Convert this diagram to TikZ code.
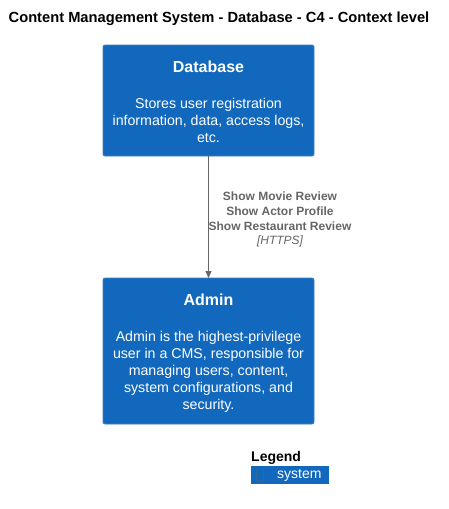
\documentclass[tikz,border=0pt]{standalone}
\usepackage{fontspec}
\setmainfont{Liberation Sans}
\usetikzlibrary{arrows.meta}
\definecolor{sysblue}{HTML}{1168BD}
\definecolor{sysedge}{HTML}{3C7FC0}
\definecolor{relgray}{HTML}{666666}
\begin{document}
\begin{tikzpicture}[x=1pt,y=-1pt,
  sysbox/.style={draw=sysedge,fill=sysblue,rounded corners=2pt,line width=0.8pt},
  boxtitle/.style={text=white,font=\fontsize{16}{19}\selectfont\bfseries,anchor=center,inner sep=0pt},
  boxdesc/.style={text=white,font=\fontsize{14.2}{17}\selectfont,align=center,anchor=north,inner sep=0pt},
  rel/.style={draw=relgray,line width=1pt,-{Triangle[length=7pt,width=6pt]}},
  rellabel/.style={text=relgray,font=\fontsize{12}{15}\selectfont\bfseries,align=center,inner sep=0pt}]
\path[fill=white] (0,0) rectangle (448,509);
\node[font=\fontsize{14.7}{17}\selectfont\bfseries,inner sep=0pt] (title) at (219,19) {Content Management System - Database - C4 - Context level};
% Database
\draw[sysbox] (103,45) rectangle (314,156);
\coordinate (dbtop) at (208.5,45);
\coordinate (dbbot) at (208.5,156);
\node[boxtitle] (dbt) at (208.5,67) {Database};
\node[boxdesc] (dbd) at (208.5,98) {Stores user registration\\information, data, access logs,\\etc.};
% Admin
\draw[sysbox] (103,278) rectangle (314,424);
\coordinate (adtop) at (208.5,278);
\node[boxtitle] (adt) at (208.5,300) {Admin};
\node[boxdesc] (add) at (208.5,331.5) {Admin is the highest-privilege\\user in a CMS, responsible for\\managing users, content,\\system configurations, and\\security.};
% relation
\draw[rel] (dbbot) -- (adtop);
\node[rellabel] (rl) at (280,211) {Show Movie Review\\Show Actor Profile\\Show Restaurant Review};
\node[text=relgray,font=\fontsize{12}{15}\selectfont\itshape,inner sep=0pt] (proto) at (280,241) {[HTTPS]};
% Legend
\node[font=\fontsize{14}{17}\selectfont\bfseries,anchor=west,inner sep=0pt] (leg) at (251,458) {Legend};
\draw[fill=sysblue,draw=sysblue] (251,466) rectangle (328,483);
\draw[draw=sysedge!80!black,line width=0.6pt] (256,469) rectangle (263,480);
\node[text=white,font=\fontsize{14}{17}\selectfont,anchor=west,inner sep=0pt] (legs) at (277,475) {system};
\end{tikzpicture}
\end{document}
